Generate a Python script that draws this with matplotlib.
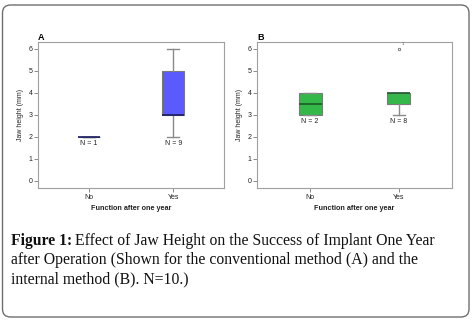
import matplotlib
matplotlib.use("Agg")
import matplotlib.pyplot as plt
from matplotlib.patches import FancyBboxPatch

plt.rcParams['font.family'] = ['Liberation Sans', 'DejaVu Sans']

# Box plot summaries per group (jaw height, mm)
groups = ["No", "Yes"]

a_q1 = [2, 3]
a_med = [2, 3]
a_q3 = [2, 5]
a_lo = [2, 2]
a_hi = [2, 6]
a_fliers = [[], []]
a_n = [1, 9]

b_q1 = [3, 3.5]
b_med = [3.5, 4]
b_q3 = [4, 4]
b_lo = [3, 3]
b_hi = [4, 4]
b_fliers = [[], [6]]
b_n = [2, 8]

yticks = [0, 1, 2, 3, 4, 5, 6]


def make_stats(q1, med, q3, lo, hi, fliers):
    stats = []
    for i in range(len(q1)):
        stats.append({'q1': q1[i], 'med': med[i], 'q3': q3[i],
                      'whislo': lo[i], 'whishi': hi[i], 'fliers': fliers[i]})
    return stats


def draw_panel(ax, stats, n, fill, median_col, letter):
    ax.bxp(stats, positions=[1, 2], widths=0.26, patch_artist=True,
           showfliers=True,
           boxprops=dict(facecolor=fill, edgecolor='#7a7a7a', linewidth=0.8),
           medianprops=dict(color=median_col, linewidth=1.2),
           whiskerprops=dict(color='#8a8a8a', linewidth=1.0),
           capprops=dict(color='#8a8a8a', linewidth=1.0),
           capwidths=0.14,
           flierprops=dict(marker='o', markersize=1.8, markerfacecolor='none',
                           markeredgecolor='#555555', markeredgewidth=0.5))
    for i, s in enumerate(stats):
        ax.text(i + 1, s['whislo'] - 0.3, f"N = {n[i]}", ha='center', va='center',
                fontsize=5, color='#222222')
        for f in s['fliers']:
            ax.text(i + 1.03, f + 0.12, "1", fontsize=3, color='#555555',
                    ha='left', va='bottom')
    ax.set_xlim(0.4, 2.6)
    ax.set_ylim(-0.32, 6.3)
    ax.set_yticks(yticks)
    ax.set_xticks([1, 2])
    ax.set_xticklabels(groups)
    ax.tick_params(axis='both', direction='out', length=3, width=0.6,
                   color='#777777', labelsize=5, pad=1, labelcolor='#222222')
    for sp in ax.spines.values():
        sp.set_color('#a0a0a0')
        sp.set_linewidth(0.8)
    ax.set_ylabel("Jaw height (mm)", fontsize=5, labelpad=3, color='#222222')
    ax.set_xlabel("Function after one year", fontsize=5.2, labelpad=3,
                  color='#222222', fontweight='bold')
    ax.set_title(letter, loc='left', fontsize=6.5, fontweight='bold', pad=1.5)


fig = plt.figure(figsize=(4.77, 3.23), dpi=100)

ax_a = fig.add_axes([38 / 477, 1 - 188 / 323, (224 - 38) / 477, (188 - 42) / 323])
ax_b = fig.add_axes([257 / 477, 1 - 188 / 323, (452 - 257) / 477, (188 - 42) / 323])

draw_panel(ax_a, make_stats(a_q1, a_med, a_q3, a_lo, a_hi, a_fliers), a_n,
           '#5a5aff', '#1a1a60', 'A')
draw_panel(ax_b, make_stats(b_q1, b_med, b_q3, b_lo, b_hi, b_fliers), b_n,
           '#35b84a', '#1c5a28', 'B')

# rounded frame around figure and caption
frame = FancyBboxPatch((0.025, 0.06), 4.665, 3.12,
                       boxstyle="round,pad=0,rounding_size=0.08",
                       transform=fig.dpi_scale_trans, facecolor='none',
                       edgecolor='#6f6f6f', linewidth=1.0)
fig.patches.append(frame)

# caption
cap_kw = dict(fontsize=11.3, family=['Liberation Serif', 'DejaVu Serif'],
              va='baseline', ha='left', color='#111111')
x0 = 11 / 477
t = fig.text(x0, 1 - 245 / 323, "Figure 1:", fontweight='bold', **cap_kw)
fig.canvas.draw()
bb = t.get_window_extent(renderer=fig.canvas.get_renderer())
x1 = (bb.x1 + 3) / fig.bbox.width
fig.text(x1, 1 - 245 / 323, "Effect of Jaw Height on the Success of Implant One Year", **cap_kw)
fig.text(x0, 1 - 264 / 323, "after Operation (Shown for the conventional method (A) and the", **cap_kw)
fig.text(x0, 1 - 283 / 323, "internal method (B). N=10.)", **cap_kw)

fig.savefig("out.png", dpi=100)
